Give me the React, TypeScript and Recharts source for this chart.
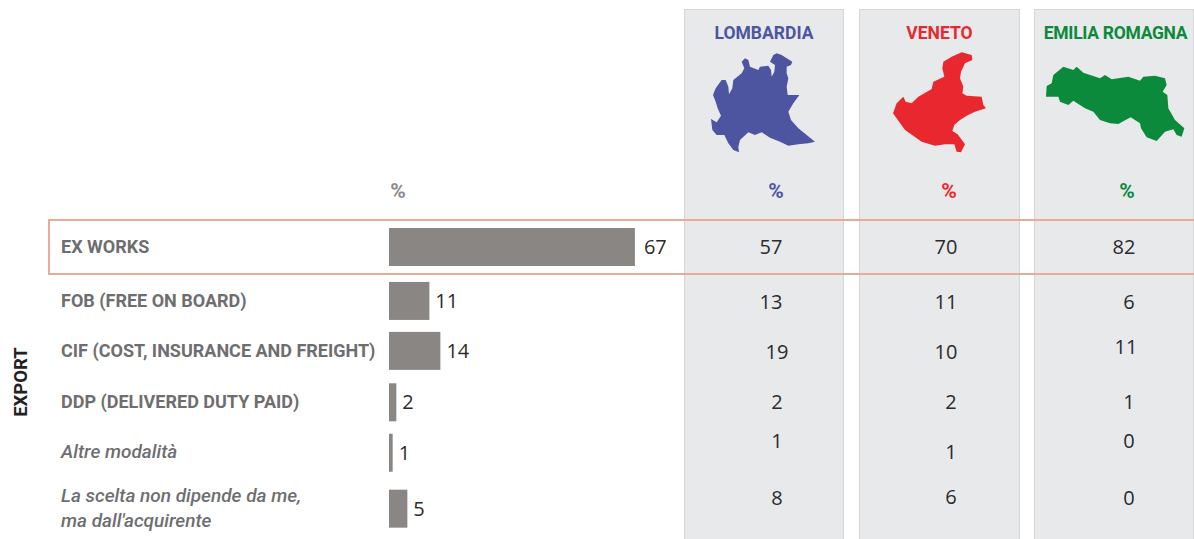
import React from "react";
import { BarChart, Bar, XAxis, YAxis, LabelList } from "recharts";

const categories = [
  "EX WORKS",
  "FOB (FREE ON BOARD)",
  "CIF (COST, INSURANCE AND FREIGHT)",
  "DDP (DELIVERED DUTY PAID)",
  "Altre modalità",
  "La scelta non dipende da me,|ma dall'acquirente",
];
const totalValues = [67, 11, 14, 2, 1, 5];
const lombardiaValues = [57, 13, 19, 2, 1, 8];
const venetoValues = [70, 11, 10, 2, 1, 6];
const emiliaValues = [82, 6, 11, 1, 0, 0];

const chartData = categories.map((name, i) => ({ name, total: totalValues[i] }));

// layout only
const rowNudge = [0, 1.6, -0.8, -1.7, -3.6, 0];
const BAR_HEIGHT = 38;
const LABEL_FONT = "Roboto, sans-serif";
const NUM_FONT = "'Open Sans', sans-serif";
const LABEL_COLOR = "#6e6e70";
const NUM_COLOR = "#2b2b2b";

const regions = [
  {
    name: "LOMBARDIA", color: "#4d55a0", panelX: 684, panelW: 160, titleX: 764, pctX: 776, titleSpacing: 0,
    values: lombardiaValues,
    cx: [771, 771, 777, 777, 777, 777], cy: [246, 301, 351, 401, 440, 497],
    box: [705, 45, 120, 115],
    shape: "205,30 215,25 230,30 245,40 262,50 258,60 245,65 245,85 250,100 245,125 248,150 283,150 265,175 250,200 258,225 280,250 305,270 330,290 310,295 280,298 250,302 225,290 195,278 170,262 150,270 130,262 105,285 100,305 102,322 85,315 70,295 58,270 35,270 22,255 18,222 35,232 48,212 38,190 32,170 24,150 32,130 50,105 62,105 70,125 72,148 82,130 85,105 110,85 118,70 110,50 120,40 130,45 135,65 160,75 165,65 190,62 198,75 200,95 208,80 210,60 195,50",
  },
  {
    name: "VENETO", color: "#e8282e", panelX: 859, panelW: 161, titleX: 939.5, pctX: 949, titleSpacing: 0,
    values: venetoValues,
    cx: [946, 946, 946, 951, 951, 951], cy: [246, 301, 351, 401, 451, 496],
    box: [885, 45, 110, 115],
    shape: "175,50 200,35 230,22 260,30 262,45 240,55 228,80 225,100 235,125 232,145 245,152 290,155 295,180 303,190 270,200 245,212 225,225 208,240 202,258 218,268 240,298 228,322 215,320 208,298 180,298 150,302 110,290 60,255 24,205 35,175 55,155 62,170 80,175 100,155 140,132 145,110 178,95 172,70",
  },
  {
    name: "EMILIA ROMAGNA", color: "#0c8a3c", panelX: 1034, panelW: 160, titleX: 1115.5, pctX: 1127, titleSpacing: -0.3,
    values: emiliaValues,
    cx: [1124, 1129, 1126, 1129, 1129, 1129], cy: [246, 301, 346, 401, 440, 497],
    box: [1040, 60, 150, 90],
    shape: "40,45 70,20 100,30 110,20 130,38 180,55 195,45 215,58 265,50 300,62 310,50 345,47 375,55 380,75 368,95 382,105 385,145 405,180 433,205 425,230 410,225 400,208 375,215 350,243 320,232 303,205 300,190 272,172 235,192 210,190 180,180 160,155 135,145 100,122 85,135 60,125 55,110 18,110 20,78 35,70",
  },
];

const abs = (x: number, y: number): React.CSSProperties => ({
  position: "absolute", left: x, top: y, transform: "translate(-50%,-50%)", whiteSpace: "nowrap",
});

const CategoryTick = (props: any) => {
  const { y, payload, index } = props;
  const parts = String(payload.value).split("|");
  const italic = index >= 4;
  const yy = y + rowNudge[index];
  const common = {
    fontFamily: LABEL_FONT, fill: LABEL_COLOR, textAnchor: "start" as const,
    fontSize: italic ? 19 : 18, fontWeight: italic ? 500 : 700,
    fontStyle: italic ? "italic" : "normal",
  };
  if (parts.length === 1) {
    return <text x={61} y={italic ? yy - 1 : yy} dy={6} {...common}>{parts[0]}</text>;
  }
  return (
    <g>
      <text x={61} y={yy - 13} dy={6} {...common}>{parts[0]}</text>
      <text x={61} y={yy + 12} dy={6} {...common}>{parts[1]}</text>
    </g>
  );
};

const NudgedBar = (props: any) => {
  const { x, y, width, height, index, fill } = props;
  return <rect x={x} y={y + rowNudge[index]} width={width} height={height} fill={fill} />;
};

const ValueLabel = (props: any) => {
  const { x, y, width, height, value, index } = props;
  const gap = index === 0 ? 9 : 6;
  return (
    <text x={x + width + gap} y={y + height / 2 + rowNudge[index]} dy={7}
      fontFamily={NUM_FONT} fontSize={20} fill={NUM_COLOR}>{value}</text>
  );
};

export default function App() {
  return (
    <div style={{ position: "absolute", left: 0, top: 0, width: 1194, height: 539, background: "#fff", overflow: "hidden" }}>
      {regions.map((r) => (
        <div key={r.name} style={{
          position: "absolute", left: r.panelX, top: 9, width: r.panelW - 2, height: 530,
          background: "#e8e9eb", border: "1px solid #d6d7d9", borderBottom: "none",
        }} />
      ))}
      {regions.map((r) => (
        <svg key={r.name} width={r.box[2]} height={r.box[3]} viewBox={`0 0 ${r.box[2] * 3} ${r.box[3] * 3}`}
          style={{ position: "absolute", left: r.box[0], top: r.box[1] }}>
          <polygon points={r.shape} fill={r.color} />
        </svg>
      ))}
      <div style={{ position: "absolute", left: 0, top: 0 }}>
        <BarChart width={1194} height={539} data={chartData} layout="vertical"
          margin={{ top: 221, right: 438, bottom: 4, left: 0 }} barCategoryGap={0}>
          <XAxis type="number" domain={[0, 100]} hide />
          <YAxis type="category" dataKey="name" width={389} axisLine={false} tickLine={false}
            interval={0} tick={<CategoryTick />} />
          <Bar dataKey="total" fill="#8a8684" barSize={BAR_HEIGHT} isAnimationActive={false} shape={<NudgedBar />}>
            <LabelList dataKey="total" content={<ValueLabel />} />
          </Bar>
        </BarChart>
      </div>
      <div style={{ position: "absolute", left: 48, top: 219, width: 1148, height: 52, border: "2px solid #eaaa98" }} />
      <div style={{ ...abs(398, 191), fontFamily: LABEL_FONT, fontWeight: 700, fontSize: 21, color: "#8a8a8c" }}>%</div>
      <div style={{ ...abs(21, 382), transform: "translate(-50%,-50%) rotate(-90deg)", fontFamily: LABEL_FONT, fontWeight: 700, fontSize: 18.5, color: "#222" }}>EXPORT</div>
      {regions.map((r) => (
        <React.Fragment key={r.name}>
          <div style={{ ...abs(r.titleX, 33), fontFamily: LABEL_FONT, fontWeight: 700, fontSize: 17.5, letterSpacing: r.titleSpacing, color: r.color }}>{r.name}</div>
          <div style={{ ...abs(r.pctX, 191), fontFamily: LABEL_FONT, fontWeight: 700, fontSize: 21, color: r.color }}>%</div>
          {r.values.map((v, i) => (
            <div key={i} style={{ ...abs(r.cx[i], r.cy[i]), fontFamily: NUM_FONT, fontSize: 20, color: NUM_COLOR }}>{v}</div>
          ))}
        </React.Fragment>
      ))}
    </div>
  );
}
